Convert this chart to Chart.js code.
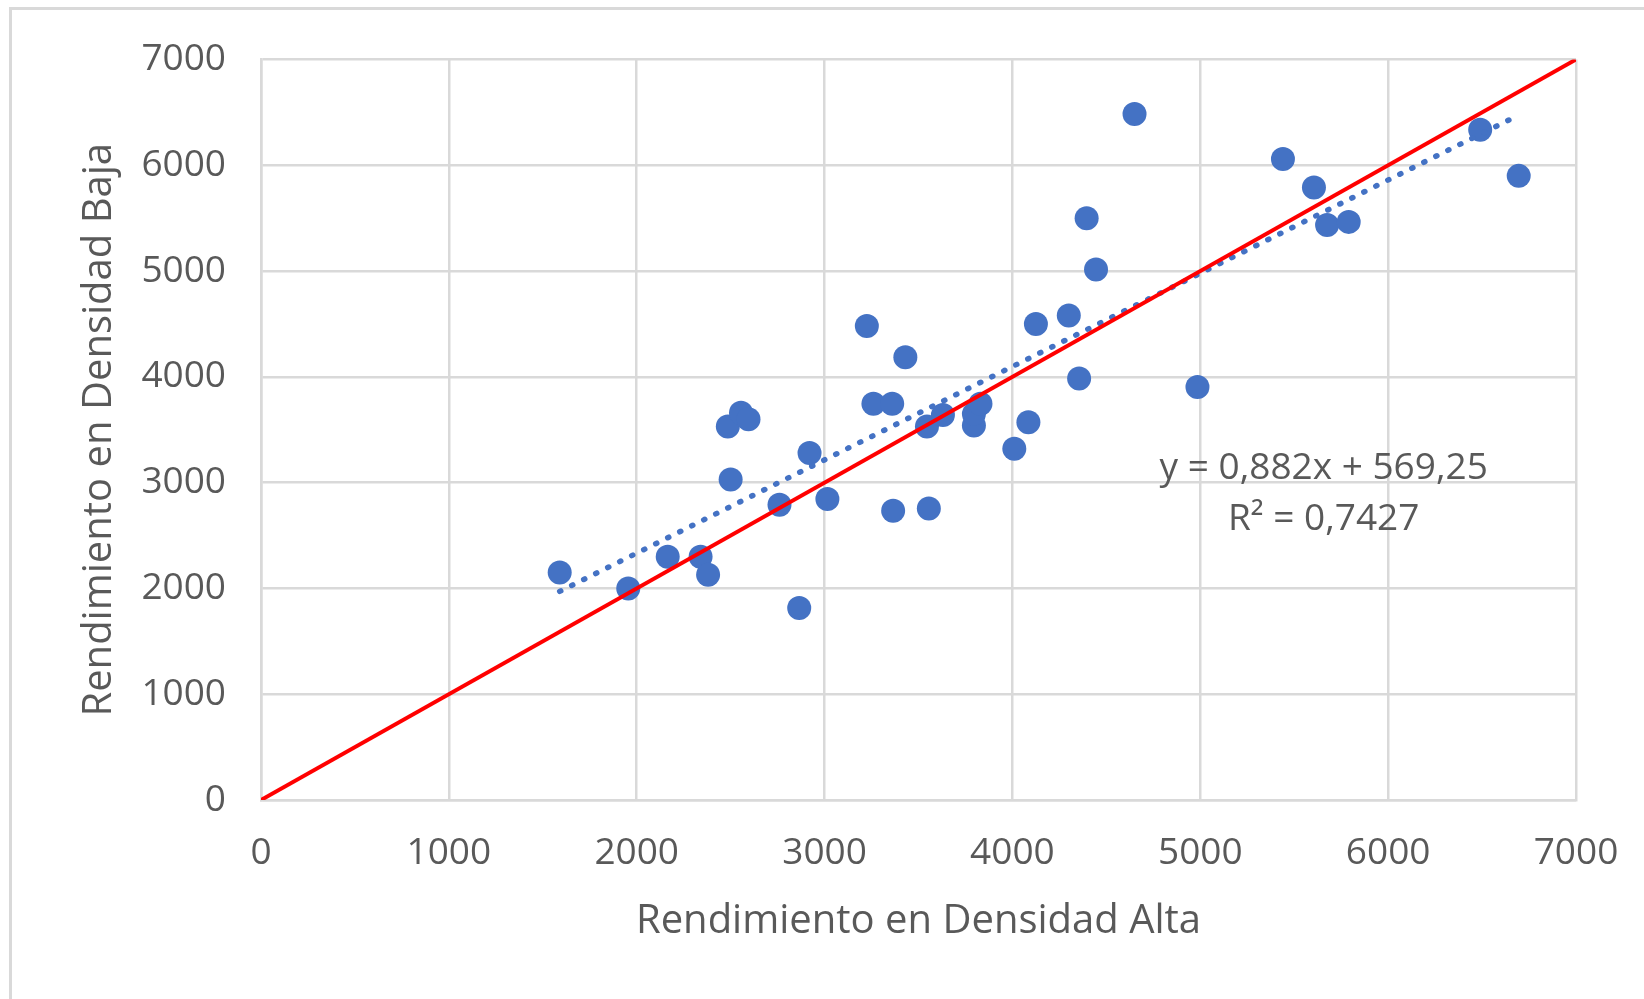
<!DOCTYPE html>
<html lang="es">
<meta charset="utf-8" />
<title>Rendimiento: Densidad Alta vs Densidad Baja</title>
<script src="https://cdn.jsdelivr.net/npm/chart.js@4.4.1"></script>

<style>
html,body{margin:0;padding:0;background:#fff;overflow:hidden}
#frame{position:absolute;left:9px;top:7px;width:2000px;height:2000px;border-left:3px solid #d9d9d9;border-top:3px solid #d9d9d9;pointer-events:none}
canvas{position:absolute;left:0;top:0}
</style>

<body>
<div id="frame"></div>
<canvas id="chart" width="1644" height="999"></canvas>

<script>
/*── datos ──*/
const altaX = [1590,1955,2165,2340,2380,2485,2555,2595,2500,2760,2865,2920,3015,3225,3260,3360,3365,3430,
               3545,3555,3630,3795,3795,3830,4010,4085,4125,4300,4355,4395,4445,4650,4985,5440,5605,5675,5790,6490,6695];
const bajaY = [2150,2000,2300,2300,2130,3530,3660,3600,3030,2790,1815,3280,2845,4480,3745,3745,2735,4185,
               3530,2755,3640,3540,3650,3745,3320,3570,4500,4580,3985,5500,5015,6485,3905,6060,5790,5435,5465,6335,5900];

/* línea de tendencia (y = 0,882x + 569,25) entre el mínimo y el máximo de X */
const trendX = [1590, 6695];
const trendY = [1972, 6474];

/* línea 1:1 */
const refX = [0, 7000];
const refY = [0, 7000];

const AXIS_MIN = 0, AXIS_MAX = 7000, AXIS_STEP = 1000;
const EQ_TEXT = ['y = 0,882x + 569,25', 'R² = 0,7427'];

const GREY_TXT = '#595959';
const GRID = '#d9d9d9';
const FONT = '"Open Sans", sans-serif';

const pts = (xs, ys) => xs.map((x, i) => ({ x, y: ys[i] }));

/* texto de la ecuación, colocado con las escalas */
const eqLabel = {
  id: 'eqLabel',
  afterDatasetsDraw(chart){
    const { ctx, scales:{ x, y } } = chart;
    ctx.save();
    ctx.fillStyle = GREY_TXT;
    ctx.font = '37px ' + FONT;
    ctx.textAlign = 'center';
    ctx.textBaseline = 'middle';
    ctx.fillText(EQ_TEXT[0], x.getPixelForValue(5657), y.getPixelForValue(3130));
    ctx.fillText(EQ_TEXT[1], x.getPixelForValue(5657), y.getPixelForValue(2650));
    ctx.restore();
  }
};

Chart.defaults.font.family = FONT;

const plain = v => String(v);   // sin separador de miles

new Chart(document.getElementById('chart'), {
  type: 'scatter',
  data: {
    datasets: [
      { label:'Datos', data: pts(altaX, bajaY), backgroundColor:'#4472c4', borderColor:'#4472c4',
        pointRadius:12, pointHoverRadius:12, borderWidth:0, order:3 },
      { label:'Tendencia', data: pts(trendX, trendY), showLine:true, pointRadius:0,
        borderColor:'#4472c4', borderWidth:5.5, borderDash:[1.2, 12.2], borderCapStyle:'round', order:2 },
      { label:'1:1', data: pts(refX, refY), showLine:true, pointRadius:0,
        borderColor:'#ff0000', borderWidth:4, order:1 }
    ]
  },
  options: {
    responsive:false,
    animation:false,
    layout:{ padding:{ left:0, top:59.5, right:68, bottom:0 } },
    plugins:{ legend:{ display:false }, tooltip:{ enabled:false } },
    scales:{
      x:{
        type:'linear', min:AXIS_MIN, max:AXIS_MAX,
        ticks:{ stepSize:AXIS_STEP, color:GREY_TXT, font:{ size:37 }, padding:31, callback:plain },
        grid:{ color:GRID, lineWidth:2.5, drawTicks:false },
        border:{ color:GRID, width:2.5 },
        title:{ display:true, text:'Rendimiento en Densidad Alta', color:GREY_TXT,
                font:{ size:40 }, padding:{ top:0, bottom:53.5 } },
        // tamaño fijo; sin relleno extra por la última etiqueta
        afterFit(s){ s.height = 199; s.paddingLeft = 0; s.paddingRight = 0; }
      },
      y:{
        type:'linear', min:AXIS_MIN, max:AXIS_MAX,
        ticks:{ stepSize:AXIS_STEP, color:GREY_TXT, font:{ size:37 }, padding:35, callback:plain },
        grid:{ color:GRID, lineWidth:2.5, drawTicks:false },
        border:{ color:GRID, width:2.5 },
        title:{ display:true, text:'Rendimiento en Densidad Baja', color:GREY_TXT,
                font:{ size:40 }, padding:{ top:75.5, bottom:0 } },
        afterFit(s){ s.width = 261; s.paddingTop = 0; s.paddingBottom = 0; }
      }
    }
  },
  plugins:[eqLabel]
});
</script>
</body>
</html>
